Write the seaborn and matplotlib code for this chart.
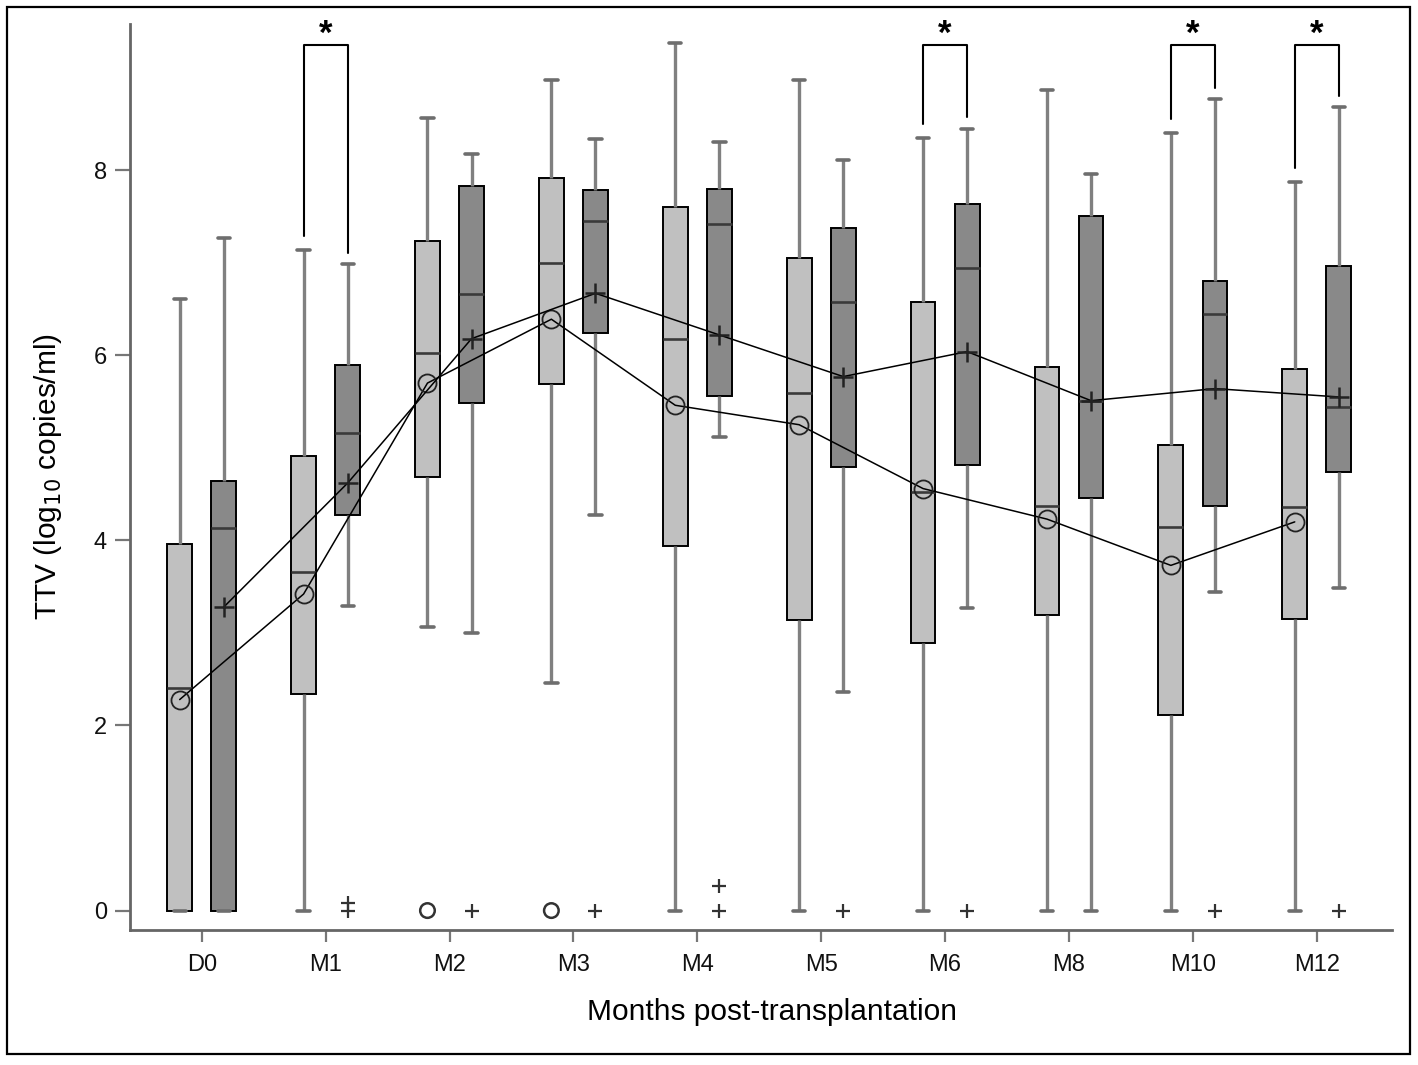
import numpy as np
import pandas as pd
import matplotlib
matplotlib.use("Agg")
import matplotlib.pyplot as plt
import seaborn as sns
from matplotlib.patches import Rectangle

# ---------------- data ----------------
months = ["D0", "M1", "M2", "M3", "M4", "M5", "M6", "M8", "M10", "M12"]

# group A (light boxes, circle means)
a_lo = [0.00, 0.00, 3.06, 2.46, 0.00, 0.00, 0.00, 0.00, 0.00, 0.00]
a_q1 = [0.00, 2.34, 4.68, 5.69, 3.94, 3.14, 2.89, 3.19, 2.11, 3.15]
a_med = [2.40, 3.66, 6.03, 7.00, 6.18, 5.59, 4.52, 4.37, 4.14, 4.36]
a_q3 = [3.96, 4.91, 7.24, 7.92, 7.60, 7.05, 6.58, 5.87, 5.03, 5.85]
a_hi = [6.61, 7.14, 8.56, 8.98, 9.37, 8.98, 8.35, 8.87, 8.40, 7.87]
a_mean = [2.28, 3.42, 5.70, 6.39, 5.46, 5.25, 4.56, 4.23, 3.73, 4.20]

# group B (dark boxes, plus means)
b_lo = [0.00, 3.29, 3.00, 4.27, 5.12, 2.36, 3.27, 0.00, 3.44, 3.49]
b_q1 = [0.00, 4.27, 5.49, 6.24, 5.56, 4.79, 4.82, 4.46, 4.37, 4.74]
b_med = [4.13, 5.16, 6.66, 7.45, 7.42, 6.58, 6.94, 5.51, 6.45, 5.44]
b_q3 = [4.64, 5.90, 7.83, 7.79, 7.80, 7.38, 7.64, 7.51, 6.80, 6.97]
b_hi = [7.27, 6.99, 8.17, 8.34, 8.30, 8.11, 8.45, 7.96, 8.77, 8.68]
b_mean = [3.28, 4.62, 6.18, 6.67, 6.22, 5.77, 6.04, 5.51, 5.64, 5.55]

# outliers
a_out_month = ["M2", "M3"]
a_out_value = [0.0, 0.0]
b_out_month = ["M1", "M1", "M2", "M3", "M4", "M4", "M5", "M6", "M10", "M12"]
b_out_value = [0.0, 0.08, 0.0, 0.0, 0.0, 0.27, 0.0, 0.0, 0.0, 0.0]

# significant comparisons
sig_months = ["M1", "M6", "M10", "M12"]

# ---------------- build long table ----------------
rows = []
for i, m in enumerate(months):
    for g, arrs in (("A", (a_lo, a_q1, a_med, a_q3, a_hi)),
                    ("B", (b_lo, b_q1, b_med, b_q3, b_hi))):
        for arr in arrs:
            rows.append({"month": m, "group": g, "value": arr[i]})
df = pd.DataFrame(rows)

sns.set_theme(style="ticks")
plt.rcParams["font.family"] = ["Liberation Sans", "DejaVu Sans"]

W, H = 1418, 1065
fig = plt.figure(figsize=(W / 100, H / 100), dpi=100)
ax = fig.add_axes([130 / W, 1 - 930 / H, (1392 - 130) / W, (930 - 24) / H])

width = 0.712
off = width / 4

sns.boxplot(
    data=df, x="month", y="value", hue="group",
    order=months, hue_order=["A", "B"],
    palette={"A": "#c0c0c0", "B": "#898989"}, saturation=1,
    width=width, gap=0.44, whis=(0, 100), showfliers=False,
    legend=False, ax=ax,
    boxprops=dict(edgecolor="black", linewidth=1.4),
    whiskerprops=dict(color="#808080", linewidth=2.4),
    capprops=dict(color="#6e6e6e", linewidth=2.6),
    medianprops=dict(color="#3a3a3a", linewidth=1.9),
)

idx = {m: i for i, m in enumerate(months)}
x = np.arange(len(months))

# mean lines
sns.lineplot(x=x - off, y=a_mean, ax=ax, color="black", linewidth=1.1,
             marker="o", markersize=13, markerfacecolor="none",
             markeredgecolor="#222222", markeredgewidth=1.3, zorder=6,
             legend=False)
sns.lineplot(x=x + off, y=b_mean, ax=ax, color="black", linewidth=1.1,
             marker="+", markersize=15, markeredgecolor="#222222",
             markeredgewidth=1.8, zorder=6, legend=False)

# outliers
sns.scatterplot(x=[idx[m] - off for m in a_out_month], y=a_out_value, ax=ax,
                marker="o", s=110, facecolor="none", edgecolor="#333333",
                linewidth=1.8, zorder=5, legend=False, clip_on=False)
sns.scatterplot(x=[idx[m] + off for m in b_out_month], y=b_out_value, ax=ax,
                marker="+", s=110, color="#333333",
                linewidth=1.6, zorder=5, legend=False, clip_on=False)

# significance brackets
top = 9.35
for m in sig_months:
    i = idx[m]
    yl = a_hi[i] + 0.15
    yr = b_hi[i] + 0.12
    ax.plot([i - off, i - off, i + off, i + off], [yl, top, top, yr],
            color="black", linewidth=1.5, clip_on=False, zorder=7)
    ax.text(i, top + 0.02, "*", ha="center", va="baseline", fontsize=25,
            fontweight="bold", color="black", clip_on=False)

# axes styling
ax.set_xlim(-0.579, 9.607)
ax.set_ylim(-0.21, 9.58)
ax.set_xticks(x)
ax.set_xticklabels(months)
ax.set_yticks([0, 2, 4, 6, 8])
ax.set_yticklabels(["0", "2", "4", "6", "8"])
sns.despine(ax=ax)
for side in ("left", "bottom"):
    ax.spines[side].set_color("#666666")
    ax.spines[side].set_linewidth(2)
ax.tick_params(axis="y", length=10.5, width=1.6, color="#777777", pad=6,
               labelsize=17, labelcolor="#111111")
ax.tick_params(axis="x", length=8.5, width=1.6, color="#777777", pad=9,
               labelsize=17, labelcolor="#111111")

ax.set_xlabel("Months post-transplantation", fontsize=21.5, color="black",
              va="center")
ax.xaxis.set_label_coords(0.509, -0.0905)
ax.set_ylabel("TTV (log$_{10}$ copies/ml)", fontsize=21.5, color="black",
              va="center")
ax.yaxis.set_label_coords(-0.065, 0.5)

# outer frame
fig.add_artist(Rectangle((7 / W, 1 - 1054 / H), (1410 - 7) / W, (1054 - 7) / H,
                         transform=fig.transFigure, fill=False,
                         edgecolor="black", linewidth=1.6))

fig.savefig("out.png", dpi=100, facecolor="white")
